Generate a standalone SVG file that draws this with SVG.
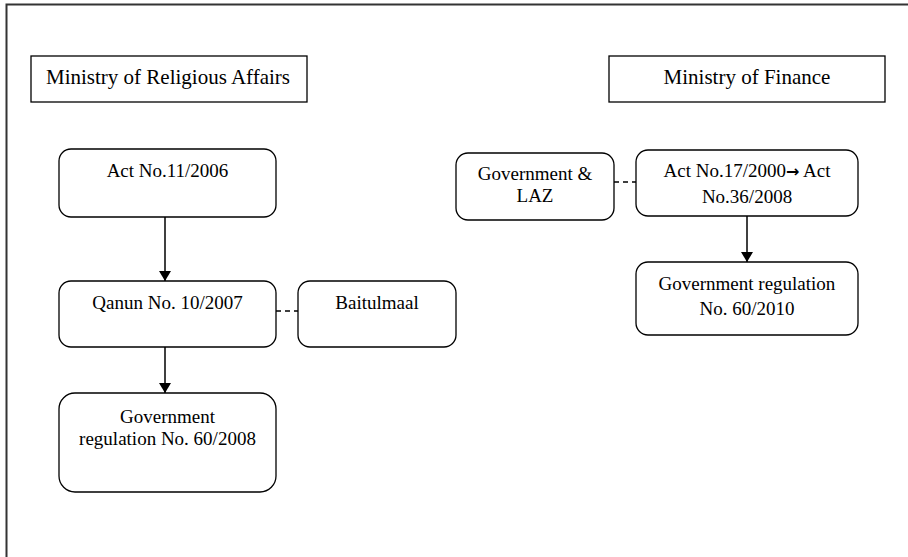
<svg xmlns="http://www.w3.org/2000/svg" width="908" height="557" viewBox="0 0 908 557">
<style>
.box{fill:#fff;stroke:#000;stroke-width:1.3}
.t{font-family:"Liberation Serif","Times New Roman",serif;font-size:19px;fill:#000;text-anchor:middle}
.h{font-size:21px}
.arr{font-family:"DejaVu Sans",sans-serif;font-size:16px;font-weight:bold}
.ln{stroke:#000;stroke-width:1.5;fill:none}
.dash{stroke:#000;stroke-width:1.3;stroke-dasharray:5,4;fill:none}
</style>
<defs>
<marker id="ah" viewBox="0 0 10 12" refX="10" refY="6" markerWidth="10" markerHeight="12" markerUnits="userSpaceOnUse" orient="auto">
<path d="M0,0 L10,6 L0,12 Z" fill="#000"/>
</marker>
</defs>
<rect width="908" height="557" fill="#fff"/>
<g id="frame">
<path d="M6.5,557 L6.5,4.5 L908,4.5" fill="none" stroke="#333" stroke-width="2"/>
</g>
<g id="ministry-religious">
<rect class="box" x="31" y="56" width="276" height="46"/>
<text class="t h" x="168" y="84">Ministry of Religious Affairs</text>
</g>
<g id="ministry-finance">
<rect class="box" x="609" y="56" width="276" height="46"/>
<text class="t h" x="747" y="84">Ministry of Finance</text>
</g>
<g id="act-11-2006">
<rect class="box" x="59" y="149" width="217" height="68" rx="12"/>
<text class="t" x="167.5" y="177">Act No.11/2006</text>
</g>
<g id="qanun">
<rect class="box" x="59" y="281" width="217" height="66" rx="12"/>
<text class="t" x="167.5" y="309">Qanun No. 10/2007</text>
</g>
<g id="baitulmaal">
<rect class="box" x="298" y="281" width="158" height="66" rx="12"/>
<text class="t" x="377" y="309">Baitulmaal</text>
</g>
<g id="gov-reg-2008">
<rect class="box" x="59" y="393" width="217" height="99" rx="16"/>
<text class="t" x="167.5" y="423">Government</text>
<text class="t" x="167.5" y="445">regulation No. 60/2008</text>
</g>
<g id="gov-laz">
<rect class="box" x="456" y="153" width="158" height="67" rx="12"/>
<text class="t" x="535" y="180">Government &amp;</text>
<text class="t" x="535" y="202">LAZ</text>
</g>
<g id="act-17-2000">
<rect class="box" x="636" y="150" width="222" height="66" rx="12"/>
<text class="t" x="747" y="177">Act No.17/2000<tspan class="arr">→</tspan> Act</text>
<text class="t" x="747" y="203">No.36/2008</text>
</g>
<g id="gov-reg-2010">
<rect class="box" x="636" y="262" width="222" height="73" rx="12"/>
<text class="t" x="747" y="290">Government regulation</text>
<text class="t" x="747" y="315">No. 60/2010</text>
</g>
<g id="connectors">
<line class="ln" x1="165" y1="217" x2="165" y2="281" marker-end="url(#ah)"/>
<line class="ln" x1="165" y1="347" x2="165" y2="393" marker-end="url(#ah)"/>
<line class="ln" x1="747" y1="216" x2="747" y2="262" marker-end="url(#ah)"/>
<line class="dash" x1="276" y1="311" x2="298" y2="311"/>
<line class="dash" x1="614" y1="182" x2="636" y2="182"/>
</g>
</svg>
